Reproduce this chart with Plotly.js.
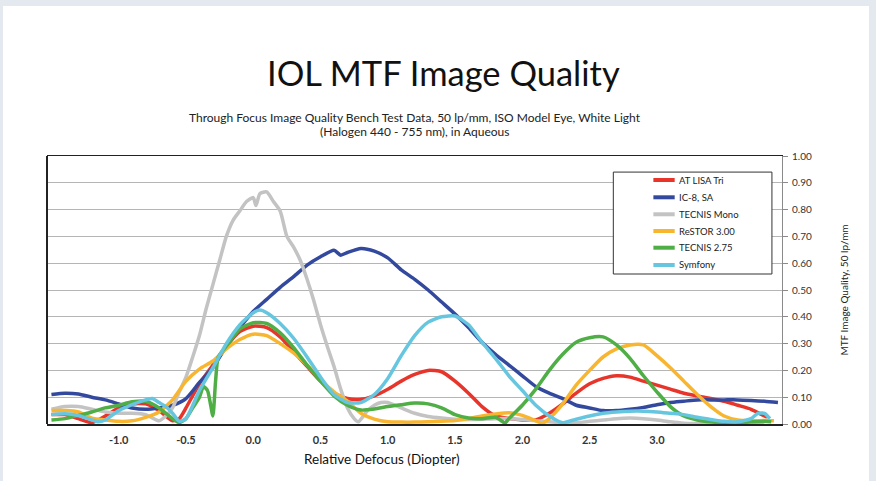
<!DOCTYPE html>
<html>
<head>
<meta charset="utf-8">
<script src="https://cdn.plot.ly/plotly-3.0.1.min.js"></script>
<style>
  html, body { margin: 0; padding: 0; background: #e4e9f0; width: 876px; height: 481px; overflow: hidden; }
  #chart { position: absolute; left: 3px; top: 6px; width: 866px; height: 475px; background: #fff; }
</style>
</head>
<body>
<div id="chart"></div>
<script>
// ---- Data ----
const seriesNames = ["AT LISA Tri", "IC-8, SA", "TECNIS Mono", "ReSTOR 3.00", "TECNIS 2.75", "Symfony"];

const xLisa = [-1.5,-1.4,-1.3,-1.2,-1.1,-1.0,-0.9,-0.8,-0.7,-0.6,-0.55,-0.5,-0.4,-0.3,-0.2,-0.1,0,0.1,0.2,0.3,0.4,0.5,0.6,0.7,0.8,0.9,1.0,1.1,1.2,1.3,1.4,1.5,1.6,1.7,1.8,1.9,2.0,2.1,2.2,2.3,2.4,2.5,2.6,2.7,2.8,2.9,3.0,3.1,3.2,3.3,3.4,3.5,3.6,3.7,3.8,3.82];
const yLisa = [0.035,0.035,0.02,0.005,0.03,0.06,0.075,0.075,0.05,0.012,0.02,0.06,0.15,0.22,0.29,0.345,0.365,0.36,0.325,0.27,0.215,0.16,0.115,0.095,0.092,0.105,0.13,0.16,0.185,0.2,0.195,0.16,0.115,0.065,0.03,0.02,0.015,0.015,0.04,0.075,0.115,0.15,0.17,0.18,0.175,0.16,0.145,0.13,0.115,0.105,0.095,0.085,0.07,0.055,0.03,0.025];

const xIc8 = [-1.5,-1.4,-1.3,-1.2,-1.1,-1.0,-0.9,-0.8,-0.7,-0.6,-0.5,-0.4,-0.3,-0.2,-0.1,0,0.1,0.2,0.3,0.4,0.5,0.6,0.65,0.7,0.8,0.9,1.0,1.1,1.2,1.3,1.4,1.5,1.6,1.7,1.8,1.9,2.0,2.1,2.2,2.3,2.4,2.5,2.6,2.7,2.8,2.9,3.0,3.1,3.2,3.3,3.4,3.5,3.6,3.7,3.8,3.9];
const yIc8 = [0.11,0.115,0.112,0.10,0.09,0.075,0.06,0.055,0.06,0.07,0.095,0.155,0.21,0.29,0.36,0.42,0.465,0.51,0.55,0.593,0.624,0.648,0.63,0.64,0.655,0.645,0.62,0.575,0.54,0.50,0.455,0.41,0.36,0.305,0.26,0.22,0.18,0.14,0.115,0.095,0.07,0.06,0.05,0.05,0.055,0.062,0.072,0.08,0.085,0.09,0.09,0.09,0.09,0.088,0.085,0.08];

const xMono = [-1.5,-1.4,-1.3,-1.2,-1.1,-1.0,-0.9,-0.8,-0.7,-0.65,-0.6,-0.55,-0.5,-0.45,-0.4,-0.35,-0.3,-0.25,-0.2,-0.15,-0.1,-0.05,0,0.02,0.05,0.1,0.15,0.2,0.25,0.3,0.35,0.4,0.45,0.5,0.55,0.6,0.65,0.7,0.75,0.78,0.85,0.9,0.95,1.0,1.1,1.2,1.3,1.4,1.5,1.6,1.7,1.8,1.9,2.0,2.1,2.2,2.3,2.4,2.5,2.6,2.7,2.8,2.9,3.0,3.1,3.2,3.3,3.4,3.5,3.6,3.7,3.8];
const yMono = [0.055,0.065,0.065,0.055,0.045,0.04,0.04,0.035,0.012,0.03,0.06,0.12,0.175,0.25,0.33,0.43,0.52,0.61,0.70,0.76,0.795,0.83,0.845,0.815,0.86,0.866,0.83,0.795,0.70,0.66,0.61,0.54,0.46,0.37,0.29,0.215,0.13,0.06,0.02,0.008,0.05,0.07,0.08,0.08,0.06,0.04,0.028,0.022,0.018,0.017,0.018,0.02,0.02,0.017,0.012,0.008,0.005,0.005,0.01,0.015,0.02,0.022,0.02,0.015,0.008,0.003,0.002,0.002,0.002,0.002,0.003,0.005];

const xRestor = [-1.5,-1.4,-1.3,-1.2,-1.1,-1.0,-0.9,-0.8,-0.7,-0.6,-0.5,-0.4,-0.3,-0.2,-0.1,0,0.1,0.2,0.3,0.4,0.5,0.6,0.7,0.8,0.9,1.0,1.1,1.2,1.3,1.4,1.5,1.6,1.7,1.8,1.9,2.0,2.1,2.15,2.2,2.3,2.4,2.5,2.6,2.7,2.8,2.9,3.0,3.1,3.2,3.3,3.4,3.5,3.6,3.7,3.8,3.87];
const yRestor = [0.05,0.05,0.045,0.022,0.015,0.01,0.012,0.025,0.045,0.09,0.16,0.205,0.235,0.28,0.315,0.335,0.33,0.30,0.265,0.22,0.165,0.12,0.085,0.04,0.018,0.008,0.007,0.007,0.008,0.01,0.013,0.02,0.03,0.037,0.042,0.032,0.012,0.003,0.02,0.075,0.145,0.2,0.25,0.28,0.295,0.295,0.255,0.21,0.16,0.11,0.065,0.03,0.015,0.012,0.013,0.012];

const xTec275 = [-1.5,-1.4,-1.3,-1.2,-1.1,-1.0,-0.9,-0.8,-0.7,-0.6,-0.55,-0.5,-0.45,-0.4,-0.37,-0.34,-0.32,-0.30,-0.28,-0.26,-0.2,-0.1,0,0.1,0.2,0.3,0.4,0.5,0.6,0.7,0.8,0.9,1.0,1.1,1.2,1.3,1.4,1.5,1.6,1.7,1.8,1.85,1.87,1.9,2.0,2.1,2.2,2.3,2.4,2.5,2.6,2.7,2.8,2.9,3.0,3.1,3.2,3.3,3.4,3.5,3.6,3.7,3.8,3.85];
const yTec275 = [0.015,0.02,0.032,0.045,0.06,0.07,0.083,0.085,0.06,0.02,0.005,0.02,0.06,0.10,0.14,0.125,0.08,0.03,0.16,0.25,0.29,0.355,0.378,0.375,0.34,0.285,0.22,0.16,0.105,0.07,0.052,0.056,0.065,0.072,0.078,0.075,0.06,0.035,0.022,0.02,0.025,0.01,0.003,0.02,0.07,0.13,0.2,0.26,0.305,0.322,0.325,0.295,0.245,0.18,0.12,0.065,0.03,0.015,0.008,0.005,0.005,0.008,0.01,0.008];

const xSymfony = [-1.5,-1.4,-1.3,-1.2,-1.15,-1.1,-1.0,-0.9,-0.8,-0.75,-0.7,-0.65,-0.6,-0.55,-0.5,-0.4,-0.3,-0.2,-0.1,0,0.05,0.1,0.2,0.3,0.4,0.5,0.6,0.7,0.8,0.9,1.0,1.1,1.2,1.3,1.4,1.5,1.6,1.7,1.8,1.9,2.0,2.1,2.2,2.3,2.4,2.5,2.6,2.7,2.8,2.9,3.0,3.1,3.2,3.3,3.4,3.5,3.6,3.7,3.75,3.8,3.84];
const ySymfony = [0.035,0.038,0.032,0.015,0.008,0.015,0.05,0.072,0.09,0.095,0.08,0.065,0.04,0.01,0.02,0.125,0.21,0.30,0.37,0.415,0.425,0.415,0.375,0.32,0.25,0.175,0.11,0.08,0.08,0.11,0.17,0.255,0.33,0.38,0.40,0.403,0.37,0.305,0.245,0.18,0.125,0.07,0.03,0.005,0.018,0.03,0.04,0.045,0.048,0.048,0.045,0.04,0.035,0.025,0.017,0.01,0.008,0.02,0.04,0.04,0.02];

const yTickVals = [0,0.1,0.2,0.3,0.4,0.5,0.6,0.7,0.8,0.9,1.0];
const xTickVals = [-1.0,-0.5,0.0,0.5,1.0,1.5,2.0,2.5,3.0];
const xTickText = ["-1.0","-0.5","0.0","0.5","1.0","1.5","2.0","2.5","3.0"];

const colors = ["#e8352b", "#33499d", "#c3c3c3", "#f8b530", "#4fae45", "#66c6df"];

const xs = [xLisa, xIc8, xMono, xRestor, xTec275, xSymfony];
const ys = [yLisa, yIc8, yMono, yRestor, yTec275, ySymfony];

const traces = seriesNames.map((n, i) => ({
  type: "scatter", mode: "lines", name: n,
  x: xs[i], y: ys[i],
  line: { color: colors[i], width: 3.5, shape: "spline", smoothing: 0.6 }
}));

const FONT = "Lato, 'Open Sans', sans-serif";

// Legend drawn as a framed box (paper coordinates of the plot area)
const legBox = { x0: 0.7705, x1: 0.9863, y0: 0.5597, y1: 0.940 };
const legSym = { x0: 0.825, x1: 0.854, tx: 0.857 };
const legRowY = [0.9104, 0.8459, 0.7825, 0.7201, 0.6578, 0.5933];

const shapes = [
  { type: "line", xref: "paper", yref: "paper", x0: 0, x1: 0, y0: 0, y1: 1, line: { color: "#222", width: 2 } },
  { type: "rect", xref: "paper", yref: "paper", x0: legBox.x0, x1: legBox.x1, y0: legBox.y0, y1: legBox.y1,
    line: { color: "#333", width: 1 }, fillcolor: "#ffffff", layer: "above" }
];
const annotations = [
  { text: "IOL MTF Image Quality", xref: "paper", yref: "paper", x: 0.539, y: 1.31,
    xanchor: "center", yanchor: "middle", showarrow: false,
    font: { family: FONT, size: 34.5, color: "#111" } },
  { text: "Through Focus Image Quality Bench Test Data, 50 lp/mm, ISO Model Eye, White Light", xref: "paper", yref: "paper",
    x: 0.5, y: 1.1455, xanchor: "center", yanchor: "middle", showarrow: false,
    font: { family: FONT, size: 12, color: "#222" } },
  { text: "(Halogen 440 - 755 nm), in Aqueous", xref: "paper", yref: "paper",
    x: 0.5, y: 1.093, xanchor: "center", yanchor: "middle", showarrow: false,
    font: { family: FONT, size: 12, color: "#222" } },
  { text: "Relative Defocus (Diopter)", xref: "paper", yref: "paper",
    x: 0.456, y: -0.13, xanchor: "center", yanchor: "middle", showarrow: false,
    font: { family: FONT, size: 13.5, color: "#111" } }
];
seriesNames.forEach((n, i) => {
  shapes.push({ type: "line", xref: "paper", yref: "paper", x0: legSym.x0, x1: legSym.x1,
    y0: legRowY[i], y1: legRowY[i], line: { color: colors[i], width: 4 }, layer: "above" });
  annotations.push({ text: n, xref: "paper", yref: "paper", x: legSym.tx, y: legRowY[i],
    xanchor: "left", yanchor: "middle", showarrow: false,
    font: { family: FONT, size: 9.5, color: "#222" } });
});

const layout = {
  width: 866, height: 475,
  margin: { l: 44, r: 87, t: 150, b: 57 },
  paper_bgcolor: "#ffffff", plot_bgcolor: "#ffffff",
  font: { family: FONT, color: "#222" },
  showlegend: false,
  xaxis: {
    range: [-1.533, 3.93], tickvals: xTickVals, ticktext: xTickText,
    showgrid: false, zeroline: false, showline: true, mirror: true,
    linecolor: "#222", linewidth: 1.5, ticks: "", ticklabelstandoff: 5,
    tickfont: { family: FONT, size: 11, color: "#333", weight: "bold" }
  },
  yaxis: {
    range: [0, 1.0], side: "right", tickvals: yTickVals, tickformat: ".2f",
    showgrid: true, gridcolor: "#b5b5b5", gridwidth: 1, zeroline: false,
    showline: true, linecolor: "#8a8a8a", linewidth: 1,
    ticks: "outside", ticklen: 5, tickcolor: "#8a8a8a", ticklabelstandoff: 2,
    tickfont: { family: FONT, size: 10, color: "#333" },
    title: { text: "MTF Image Quality, 50 lp/mm", font: { family: FONT, size: 10, color: "#222" }, standoff: 30 }
  },
  shapes: shapes,
  annotations: annotations
};

Plotly.newPlot("chart", traces, layout, { displayModeBar: false, staticPlot: true });
</script>
</body>
</html>
